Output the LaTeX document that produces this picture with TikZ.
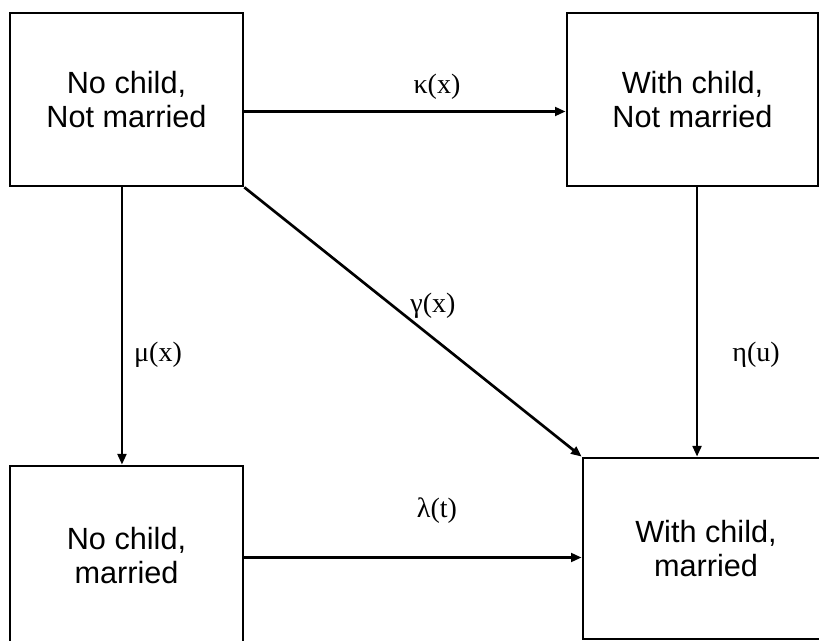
\documentclass[tikz,border=0pt]{standalone}
\usepackage{fontspec}
\setmainfont{Liberation Sans}
\newfontfamily\ratefont{Liberation Serif}
\usetikzlibrary{arrows.meta}

\tikzset{
    state/.style={draw,line width=2pt,inner sep=0pt,align=center,
        font=\fontsize{23}{25}\selectfont},
    rate/.style={font=\ratefont\fontsize{21}{24}\selectfont,inner sep=0pt}
}

\begin{document}
\begin{tikzpicture}[x=0.75pt,y=-0.75pt,>={Triangle[length=8pt,width=6.5pt]},
    line width=2pt]
    \useasboundingbox (0,0) rectangle (819,641);
    % states
    \node[state,minimum width=174.75pt,minimum height=129.75pt]
        (nc) at (126.5,99.5) {No child,\\Not married};
    \node[state,minimum width=188.25pt,minimum height=129.75pt]
        (wc) at (692.5,99.5) {With child,\\Not married};
    \node[state,minimum width=174.75pt,minimum height=134.25pt]
        (nm) at (126.5,555.5) {No child,\\married};
    \node[state,minimum width=184.5pt,minimum height=135.75pt]
        (wm) at (706,548.5) {With child,\\married};
    % transitions
    \draw[->] ([yshift=-9pt]nc.east) -- ([yshift=-9pt]nc.east -| wc.west);
    \draw[->] ([xshift=-3.4pt]nc.south) -- ([xshift=-3.4pt]nc.south |- nm.north);
    \draw[->] (nc.south east) -- (wm.north west);
    \draw[->] ([xshift=3.4pt]wc.south) -- ([xshift=3.4pt]wc.south |- wm.north);
    \draw[->] ([yshift=-1.5pt]nm.east) -- ([yshift=-1.5pt]nm.east -| wm.west);
    % rates
    \node[rate] (kappa) at (437,87) {κ(x)};
    \node[rate] (gamma) at (433,306) {γ(x)};
    \node[rate] (mu) at (158,355) {μ(x)};
    \node[rate] (eta) at (756,355) {η(u)};
    \node[rate] (lambda) at (437,511) {λ(t)};
\end{tikzpicture}
\end{document}
